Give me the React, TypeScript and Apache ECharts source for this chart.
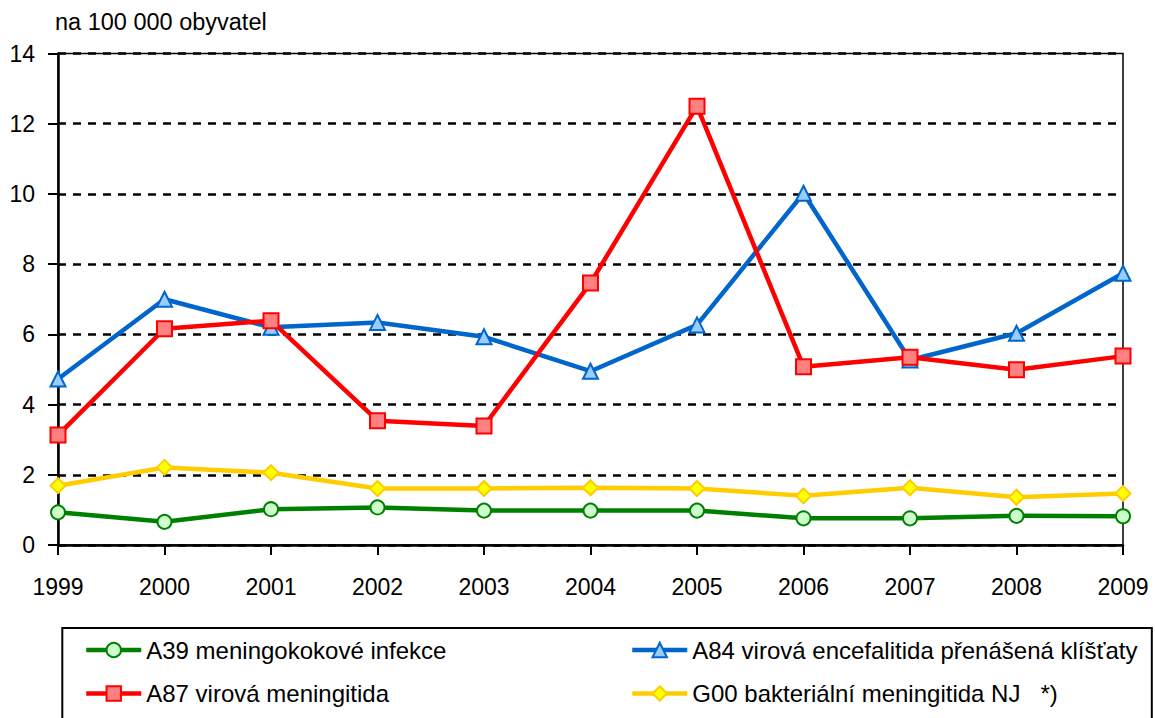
import React, { useEffect, useRef } from "react";
import * as echarts from "echarts";

const years = ["1999", "2000", "2001", "2002", "2003", "2004", "2005", "2006", "2007", "2008", "2009"];
const a39 = [0.93, 0.66, 1.02, 1.07, 0.98, 0.98, 0.98, 0.76, 0.76, 0.83, 0.82];
const a84 = [4.73, 7.0, 6.2, 6.34, 5.93, 4.95, 6.27, 10.02, 5.27, 6.03, 7.74];
const a87 = [3.13, 6.16, 6.39, 3.54, 3.39, 7.46, 12.5, 5.08, 5.35, 4.99, 5.38];
const g00 = [1.69, 2.21, 2.06, 1.61, 1.61, 1.63, 1.61, 1.4, 1.63, 1.36, 1.47];

const names = [
  "A39 meningokokové infekce",
  "A84 virová encefalitida přenášená klíšťaty",
  "A87 virová meningitida",
  "G00 bakteriální meningitida NJ   *)",
];
const colors = ["#008000", "#0066CC", "#FF0000", "#FFCC00"];
const fills = ["#CCFFCC", "#99CCFF", "#FF8080", "#FFFF00"];
const symbols = ["circle", "triangle", "rect", "diamond"];
const yTitle = "na 100 000 obyvatel";

const FONT = "'Liberation Sans', Arial, sans-serif";

export default function App() {
  const ref = useRef<HTMLDivElement>(null);
  useEffect(() => {
    if (!ref.current) return;
    const chart = echarts.init(ref.current, undefined, { renderer: "svg" });
    const mk = (i: number, data: number[], size: number) => ({
      name: names[i],
      type: "line",
      data,
      symbol: symbols[i],
      symbolSize: size,
      showSymbol: true,
      lineStyle: { color: colors[i], width: 4.5 },
      itemStyle: { color: fills[i], borderColor: colors[i], borderWidth: 2 },
      emphasis: { disabled: true },
    });
    const legItem = (i: number) => ({
      name: names[i],
      itemStyle: { color: fills[i], borderColor: colors[i], borderWidth: 2 },
      lineStyle: { color: colors[i], width: 4.5 },
    });
    const legendCommon = {
      orient: "vertical",
      itemWidth: 55,
      itemHeight: 18,
      itemGap: 19.5,
      top: 633,
      selectedMode: false,
      textStyle: { fontFamily: FONT, fontSize: 24, color: "#000", lineHeight: 24 },
    };
    chart.setOption({
      animation: false,
      backgroundColor: "#fff",
      grid: {
        left: 58,
        right: 32,
        top: 53.5,
        bottom: 173,
        show: true,
        borderColor: "#000",
        borderWidth: 1.5,
        backgroundColor: "transparent",
      },
      xAxis: {
        type: "category",
        data: years,
        boundaryGap: false,
        axisLine: { lineStyle: { color: "#000", width: 2.5 } },
        axisTick: { show: true, length: 10, lineStyle: { color: "#000", width: 2 } },
        axisLabel: { color: "#000", fontFamily: FONT, fontSize: 23, margin: 30 },
        splitLine: { show: false },
      },
      yAxis: {
        type: "value",
        min: 0,
        max: 14,
        interval: 2,
        axisLine: { show: true, lineStyle: { color: "#000", width: 2.5 } },
        axisTick: { show: true, length: 10, lineStyle: { color: "#000", width: 2 } },
        axisLabel: { color: "#000", fontFamily: FONT, fontSize: 23, margin: 23 },
        splitLine: { show: true, lineStyle: { color: "#000", width: 2.5, type: [8, 7] } },
      },
      legend: [
        { ...legendCommon, left: 79, data: [legItem(0), legItem(2)] },
        { ...legendCommon, left: 625, data: [legItem(1), legItem(3)] },
      ],
      graphic: [
        {
          type: "text",
          left: 55,
          top: 10,
          style: { text: yTitle, fontFamily: FONT, fontSize: 23.5, fill: "#000" },
        },
        {
          type: "rect",
          shape: { x: 62.3, y: 628, width: 1089.5, height: 120 },
          style: { fill: "none", stroke: "#000", lineWidth: 2 },
          z: -1,
        },
      ],
      series: [
        mk(0, a39, 14),
        mk(1, a84, 15),
        mk(2, a87, 15),
        mk(3, g00, 15),
      ],
    });
    return () => chart.dispose();
  }, []);
  return (
    <div
      ref={ref}
      style={{ position: "fixed", left: 0, top: 0, width: 1155, height: 718 }}
    />
  );
}
